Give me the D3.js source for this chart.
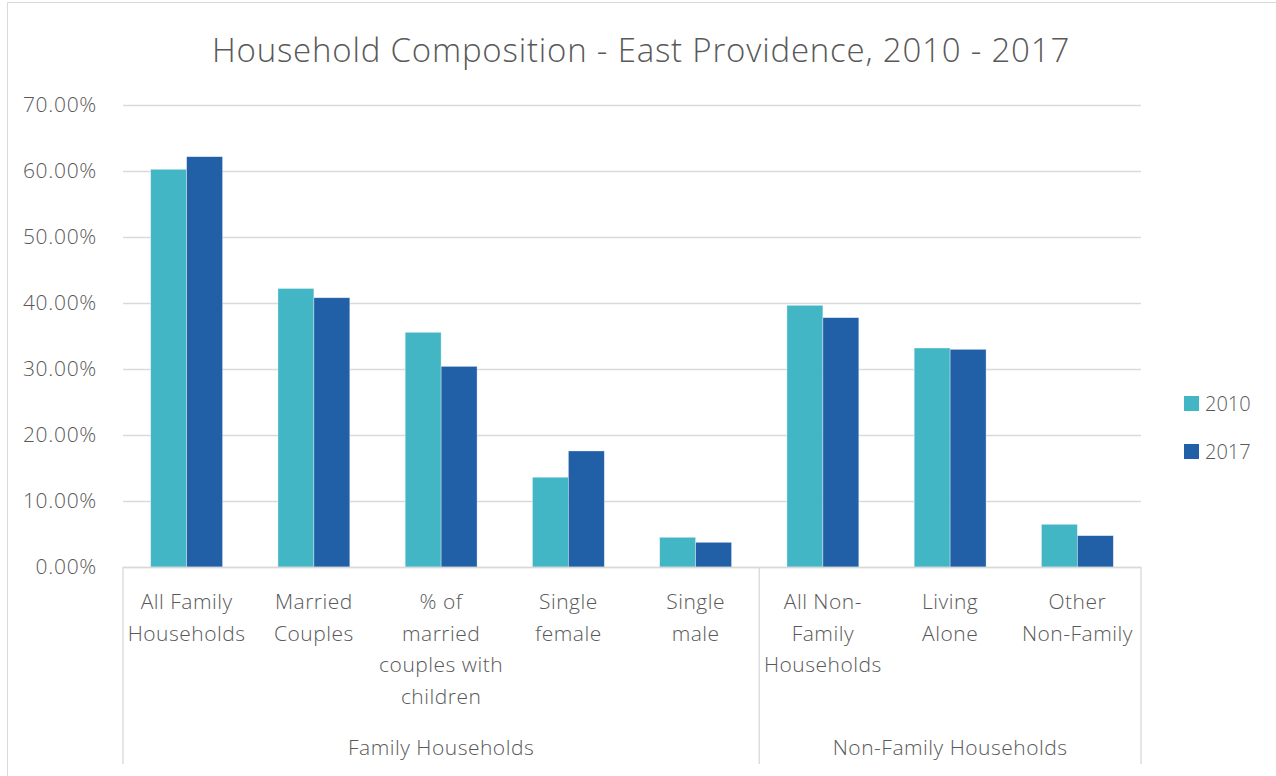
<!DOCTYPE html>
<html>
<head>
<meta charset="utf-8">
<script src="https://cdn.jsdelivr.net/npm/d3@7"></script>
<style>
  body { margin: 0; background: #fff; }
  svg text { font-family: "Open Sans", "Segoe UI", sans-serif; font-weight: 300; fill: #595959; }
</style>
</head>
<body>
<svg id="chart" width="1276" height="776"></svg>
<script>
// data
const categories = [
  ["All Family", "Households"],
  ["Married", "Couples"],
  ["% of", "married", "couples with", "children"],
  ["Single", "female"],
  ["Single", "male"],
  ["All Non-", "Family", "Households"],
  ["Living", "Alone"],
  ["Other", "Non-Family"]
];
const groups = [
  {name: "Family Households", from: 0, to: 5},
  {name: "Non-Family Households", from: 5, to: 8}
];
const seriesNames = ["2010", "2017"];
const values2010 = [0.6026, 0.4220, 0.3556, 0.1360, 0.0450, 0.3965, 0.3318, 0.0647];
const values2017 = [0.6217, 0.4080, 0.3040, 0.1758, 0.0374, 0.3778, 0.3298, 0.0475];
const yTicks = [0, 0.1, 0.2, 0.3, 0.4, 0.5, 0.6, 0.7];
const colors = ["#42b6c5", "#215fa7"];

const svg = d3.select("#chart");

const plot = {left: 123, right: 1141, top: 105, bottom: 567};

// chart border (the right and bottom edges sit outside the picture)
svg.append("path")
  .attr("d", "M7.5,800 V2.5 H1300")
  .attr("fill", "none")
  .attr("stroke", "#d9d9d9")
  .attr("stroke-width", 1);

svg.append("text")
  .attr("x", 641)
  .attr("y", 62)
  .attr("text-anchor", "middle")
  .attr("font-size", 33)
  .attr("letter-spacing", 0.8)
  .text("Household Composition - East Providence, 2010 - 2017");

const x = d3.scaleBand()
  .domain(d3.range(categories.length))
  .range([plot.left, plot.right]);
const xInner = d3.scaleBand()
  .domain(seriesNames)
  .range([0, x.bandwidth()])
  .paddingInner(0)
  .paddingOuter(0.77);
const y = d3.scaleLinear()
  .domain([0, 0.7])
  .range([plot.bottom, plot.top]);

// gridlines + y labels
const yAxis = d3.axisLeft(y)
  .tickValues(yTicks)
  .tickFormat(d3.format(".2%"))
  .tickSize(-(plot.right - plot.left))
  .tickPadding(26);
const yg = svg.append("g")
  .attr("transform", `translate(${plot.left},0)`)
  .call(yAxis);
yg.select(".domain").remove();
yg.selectAll(".tick line").attr("stroke", "#d9d9d9").attr("stroke-width", 1.3);
yg.selectAll(".tick text").attr("font-size", 21).attr("fill", "#595959")
  .attr("letter-spacing", 0.7)
  .style("font-family", "'Open Sans', sans-serif").style("font-weight", 300);

// bars
const series = [values2010, values2017];
series.forEach((vals, si) => {
  svg.append("g")
    .selectAll("rect")
    .data(vals)
    .enter()
    .append("rect")
    .attr("x", (d, i) => x(i) + xInner(seriesNames[si]))
    .attr("width", xInner.bandwidth())
    .attr("y", (d) => y(d))
    .attr("height", (d) => y(0) - y(d))
    .attr("fill", colors[si])
    .attr("stroke", "#ffffff")
    .attr("stroke-opacity", 0.5)
    .attr("stroke-width", 0.7);
});

// baseline and group separators
svg.append("line")
  .attr("x1", plot.left).attr("x2", plot.right)
  .attr("y1", plot.bottom + 0.5).attr("y2", plot.bottom + 0.5)
  .attr("stroke", "#d9d9d9").attr("stroke-width", 1.3);

const sepIdx = [0, 5, 8];
svg.append("g")
  .selectAll("line")
  .data(sepIdx)
  .enter()
  .append("line")
  .attr("x1", (d) => d < categories.length ? x(d) : plot.right)
  .attr("x2", (d) => d < categories.length ? x(d) : plot.right)
  .attr("y1", plot.bottom)
  .attr("y2", 764)
  .attr("stroke", "#d9d9d9")
  .attr("stroke-width", 1.3);

// category labels
const catLabels = svg.append("g")
  .selectAll("text")
  .data(categories)
  .enter()
  .append("text")
  .attr("text-anchor", "middle")
  .attr("font-size", 21)
  .attr("letter-spacing", 0.5)
  .attr("transform", (d, i) => `translate(${x(i) + x.bandwidth() / 2},609)`);
catLabels.selectAll("tspan")
  .data((d) => d)
  .enter()
  .append("tspan")
  .attr("x", 0)
  .attr("y", (d, j) => j * 31.7)
  .text((d) => d);

// group labels
svg.append("g")
  .selectAll("text")
  .data(groups)
  .enter()
  .append("text")
  .attr("text-anchor", "middle")
  .attr("font-size", 21)
  .attr("letter-spacing", 0.5)
  .attr("x", (g) => (x(g.from) + (g.to < categories.length ? x(g.to) : plot.right)) / 2)
  .attr("y", 755)
  .text((g) => g.name);

// legend
const legend = svg.append("g")
  .selectAll("g")
  .data(seriesNames)
  .enter()
  .append("g")
  .attr("transform", (d, i) => `translate(1184,${396 + i * 48})`);
legend.append("rect")
  .attr("width", 15)
  .attr("height", 15)
  .attr("fill", (d, i) => colors[i]);
legend.append("text")
  .attr("x", 21)
  .attr("y", 14.5)
  .attr("font-size", 20)
  .text((d) => d);
</script>
</body>
</html>
